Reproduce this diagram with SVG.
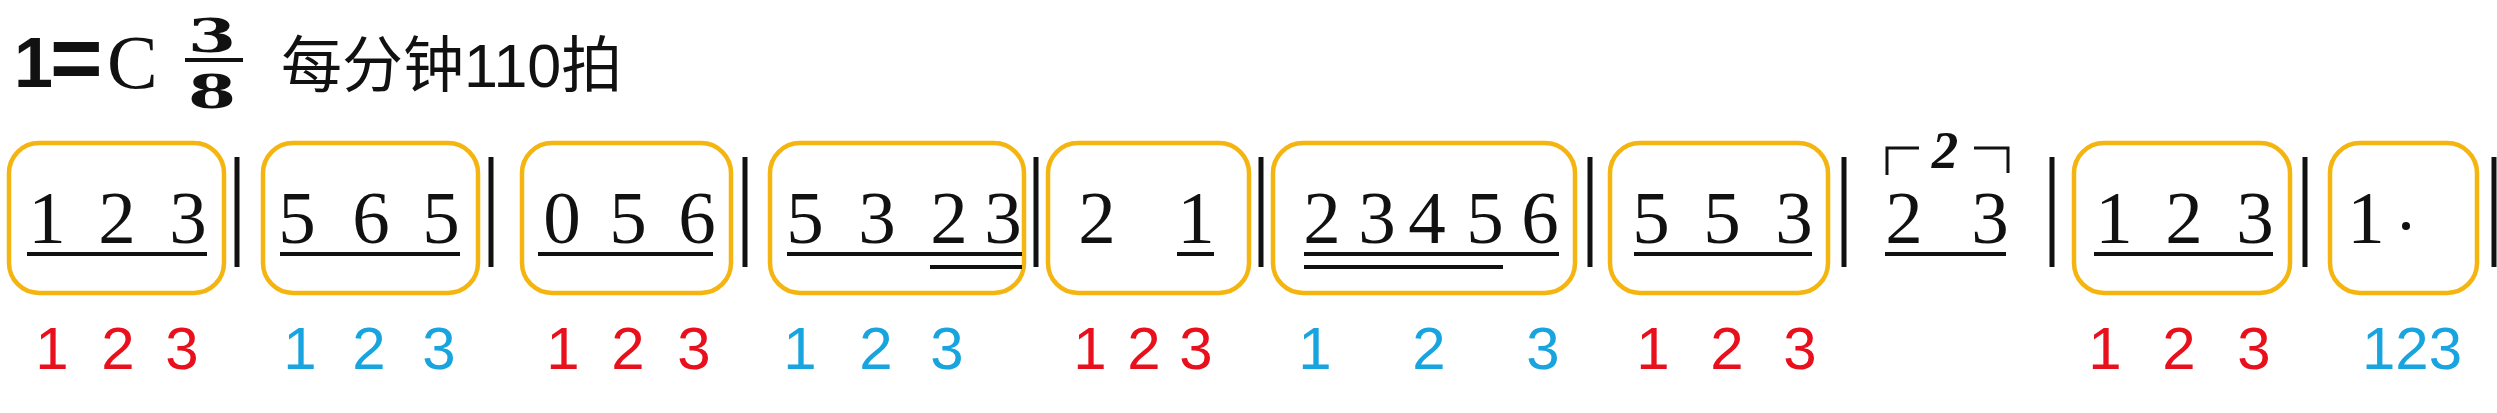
<svg xmlns="http://www.w3.org/2000/svg" width="2497" height="413" viewBox="0 0 2497 413">
<style>
.box{fill:none;stroke:#F5B510;stroke-width:4.5}
.n{font-family:"Liberation Serif","Times New Roman",serif;font-size:75px;fill:#111;text-anchor:middle}
.ul{stroke:#111;stroke-width:4}
.bar{stroke:#111;stroke-width:5}
.r{font-family:"Liberation Sans",Arial,sans-serif;font-size:60px;fill:#E8101C;text-anchor:middle}
.b{font-family:"Liberation Sans",Arial,sans-serif;font-size:60px;fill:#18A4DE;text-anchor:middle}
.frac{font-family:"DejaVu Serif",serif;font-weight:bold;font-size:47px;fill:#111}
</style>
<rect width="2497" height="413" fill="#fff"/>
<g id="header">
<text x="14" y="87" font-family="Liberation Sans,Arial,sans-serif" font-weight="bold" fill="#111"><tspan font-size="70">1</tspan><tspan x="50" y="89" font-size="90">=</tspan></text>
<text x="107" y="88" font-family="Liberation Serif,Times New Roman,serif" font-size="76" fill="#111">C</text>
<text class="frac" x="188" y="52" textLength="48" lengthAdjust="spacingAndGlyphs">3</text>
<line x1="185" y1="60" x2="243" y2="60" stroke="#111" stroke-width="4"/>
<text class="frac" x="188" y="108" textLength="48" lengthAdjust="spacingAndGlyphs">8</text>
<text x="281" y="87" font-family="Liberation Sans,Noto Sans CJK SC,sans-serif" font-size="61" fill="#111">每分钟110拍</text>
</g>
<g id="barlines">
<line class="bar" x1="237" y1="157" x2="237" y2="267"/>
<line class="bar" x1="491" y1="157" x2="491" y2="267"/>
<line class="bar" x1="745" y1="157" x2="745" y2="267"/>
<line class="bar" x1="1036" y1="157" x2="1036" y2="267"/>
<line class="bar" x1="1261" y1="157" x2="1261" y2="267"/>
<line class="bar" x1="1590" y1="157" x2="1590" y2="267"/>
<line class="bar" x1="1844" y1="157" x2="1844" y2="267"/>
<line class="bar" x1="2052" y1="157" x2="2052" y2="267"/>
<line class="bar" x1="2305" y1="157" x2="2305" y2="267"/>
<line class="bar" x1="2494" y1="157" x2="2494" y2="267"/>
</g>
<g id="m1">
<rect class="box" x="9" y="143" width="215" height="150" rx="30"/>
<text class="n" x="47" y="243">1</text><text class="n" x="117" y="243">2</text><text class="n" x="188" y="243">3</text>
<line class="ul" x1="27" y1="254" x2="207" y2="254"/>
<text class="r" x="52" y="369">1</text><text class="r" x="118" y="369">2</text><text class="r" x="182" y="369">3</text>
</g>
<g id="m2">
<rect class="box" x="263" y="143" width="215" height="150" rx="30"/>
<text class="n" x="297" y="243">5</text><text class="n" x="371" y="243">6</text><text class="n" x="441" y="243">5</text>
<line class="ul" x1="280" y1="254" x2="460" y2="254"/>
<text class="b" x="300" y="369">1</text><text class="b" x="369" y="369">2</text><text class="b" x="439" y="369">3</text>
</g>
<g id="m3">
<rect class="box" x="522" y="143" width="209" height="150" rx="30"/>
<text class="n" x="562" y="243">0</text><text class="n" x="628" y="243">5</text><text class="n" x="697" y="243">6</text>
<line class="ul" x1="538" y1="254" x2="713" y2="254"/>
<text class="r" x="563" y="369">1</text><text class="r" x="628" y="369">2</text><text class="r" x="694" y="369">3</text>
</g>
<g id="m4">
<rect class="box" x="770" y="143" width="254" height="150" rx="30"/>
<text class="n" x="805" y="243">5</text><text class="n" x="877" y="243">3</text><text class="n" x="949" y="243">2</text><text class="n" x="1003" y="243">3</text>
<line class="ul" x1="787" y1="254" x2="1022" y2="254"/>
<line class="ul" x1="930" y1="267" x2="1022" y2="267"/>
<text class="b" x="800" y="369">1</text><text class="b" x="876" y="369">2</text><text class="b" x="947" y="369">3</text>
</g>
<g id="m5">
<rect class="box" x="1048" y="143" width="201" height="150" rx="30"/>
<text class="n" x="1097" y="243">2</text><text class="n" x="1196" y="243">1</text>
<line class="ul" x1="1177" y1="254" x2="1214" y2="254"/>
<text class="r" x="1090" y="369">1</text><text class="r" x="1144" y="369">2</text><text class="r" x="1196" y="369">3</text>
</g>
<g id="m6">
<rect class="box" x="1273" y="143" width="302" height="150" rx="30"/>
<text class="n" x="1322" y="243">2</text><text class="n" x="1377" y="243">3</text><text class="n" x="1427" y="243">4</text><text class="n" x="1485" y="243">5</text><text class="n" x="1540" y="243">6</text>
<line class="ul" x1="1304" y1="254" x2="1559" y2="254"/>
<line class="ul" x1="1304" y1="267" x2="1503" y2="267"/>
<text class="b" x="1315" y="369">1</text><text class="b" x="1429" y="369">2</text><text class="b" x="1543" y="369">3</text>
</g>
<g id="m7">
<rect class="box" x="1610" y="143" width="218" height="150" rx="30"/>
<text class="n" x="1651" y="243">5</text><text class="n" x="1722" y="243">5</text><text class="n" x="1794" y="243">3</text>
<line class="ul" x1="1634" y1="254" x2="1812" y2="254"/>
<text class="r" x="1653" y="369">1</text><text class="r" x="1727" y="369">2</text><text class="r" x="1800" y="369">3</text>
</g>
<g id="duplet">
<polyline points="1887,175 1887,148 1919,148" fill="none" stroke="#111" stroke-width="3"/>
<polyline points="1974,148 2008,148 2008,173" fill="none" stroke="#111" stroke-width="3"/>
<text x="1945" y="168" font-family="Liberation Serif,Times New Roman,serif" font-weight="bold" font-style="italic" font-size="53" fill="#111" text-anchor="middle">2</text>
<text class="n" x="1904" y="243">2</text><text class="n" x="1990" y="243">3</text>
<line class="ul" x1="1885" y1="254" x2="2006" y2="254"/>
</g>
<g id="m8">
<rect class="box" x="2074" y="143" width="216" height="150" rx="30"/>
<text class="n" x="2114" y="243">1</text><text class="n" x="2184" y="243">2</text><text class="n" x="2255" y="243">3</text>
<line class="ul" x1="2094" y1="254" x2="2273" y2="254"/>
<text class="r" x="2105" y="369">1</text><text class="r" x="2179" y="369">2</text><text class="r" x="2254" y="369">3</text>
</g>
<g id="m9">
<rect class="box" x="2330" y="143" width="147" height="150" rx="30"/>
<text class="n" x="2366" y="243">1</text>
<circle cx="2406" cy="226" r="4" fill="#111"/>
<text class="b" x="2412" y="369">123</text>
</g>
</svg>
